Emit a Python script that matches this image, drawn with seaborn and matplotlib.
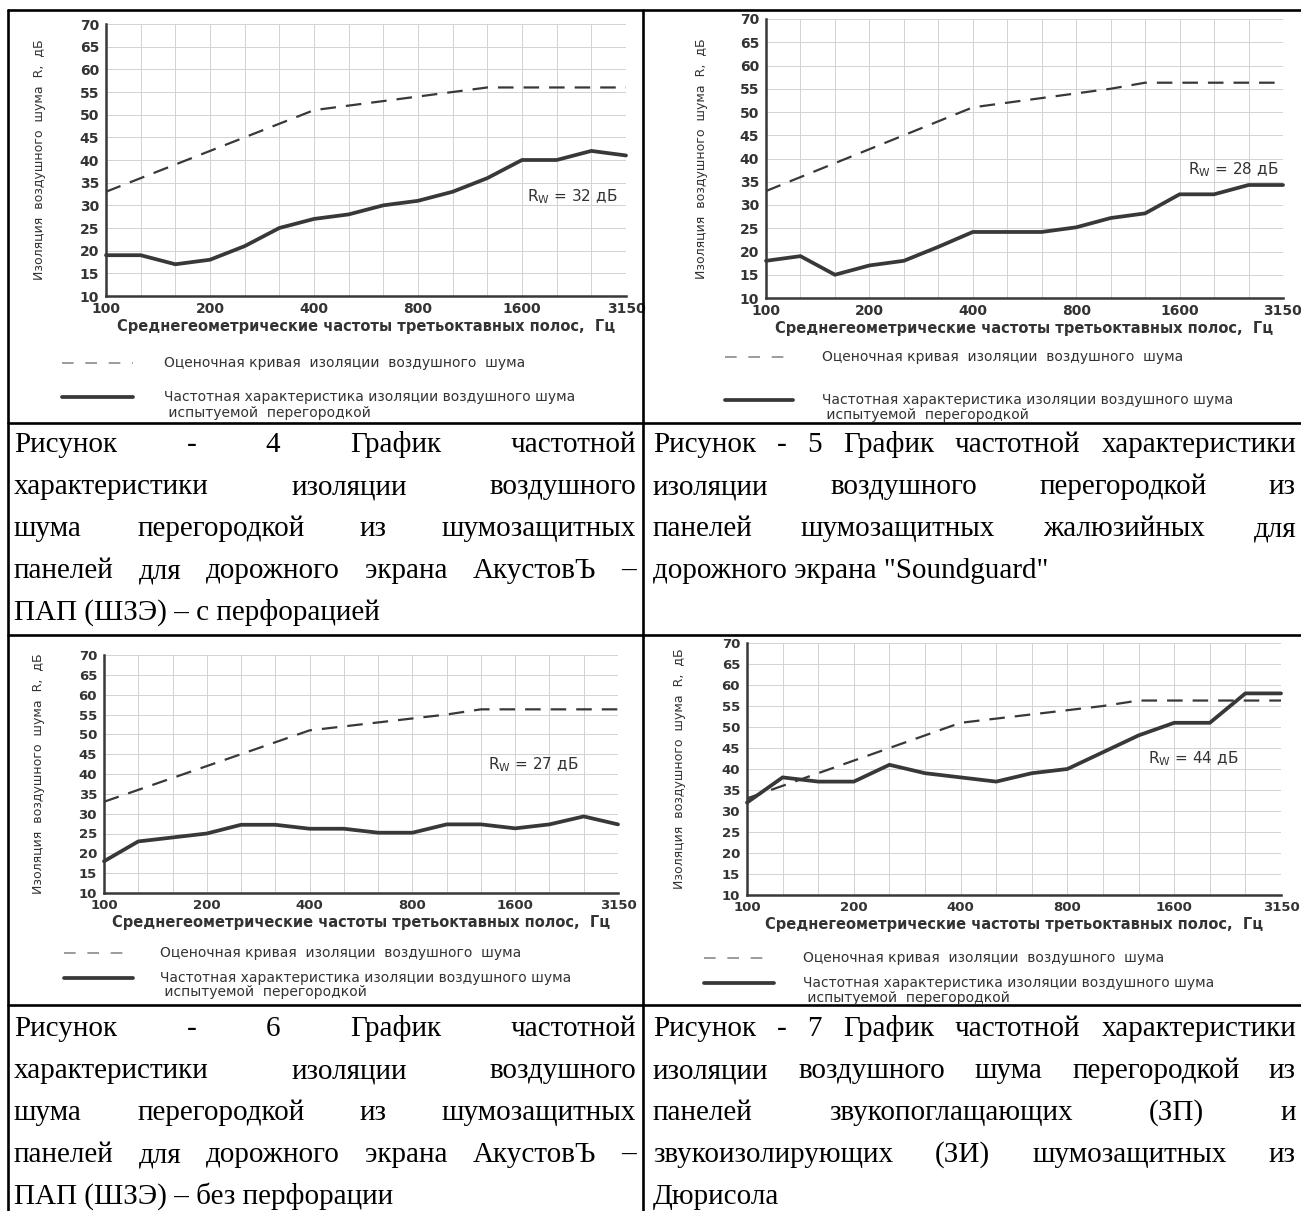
import numpy as np
import pandas as pd
import matplotlib
matplotlib.use("Agg")
import matplotlib.pyplot as plt
import seaborn as sns
from matplotlib.lines import Line2D

# Third-octave band centre frequencies (Hz)
freqs = [100, 125, 160, 200, 250, 315, 400, 500, 630, 800,
         1000, 1250, 1600, 2000, 2500, 3150]
shown_freqs = [100, 200, 400, 800, 1600, 3150]

# Reference (rating) curve, dashed
ref_curve = [33, 36, 39, 42, 45, 48, 51, 52, 53, 54, 55, 56, 56, 56, 56, 56]
ref_curve_b = [33, 36, 39, 42, 45, 48, 51, 52, 53, 54, 55, 56.3, 56.3, 56.3, 56.3, 56.3]

# Measured insulation curves, solid
meas_fig4 = [19, 19, 17, 18, 21, 25, 27, 28, 30, 31, 33, 36, 40, 40, 42, 41]
meas_fig5 = [18, 19, 15, 17, 18, 21, 24.2, 24.2, 24.2, 25.2, 27.2, 28.2, 32.3, 32.3, 34.3, 34.3]
meas_fig6 = [18, 23, 24, 25, 27.2, 27.2, 26.2, 26.2, 25.2, 25.2, 27.3, 27.3, 26.3, 27.3, 29.3, 27.3]
meas_fig7 = [32, 38, 37, 37, 41, 39, 38, 37, 39, 40, 44, 48, 51, 51, 58, 58]

rw_values = [32, 28, 27, 44]

ylabel_txt = "Изоляция  воздушного  шума  R,  дБ"
xlabel_txt = "Среднегеометрические частоты третьоктавных полос,  Гц"
legend_ref = "Оценочная кривая  изоляции  воздушного  шума"
legend_meas = ["Частотная характеристика изоляции воздушного шума",
               " испытуемой  перегородкой"]

caption4 = ["Рисунок - 4 График частотной",
            "характеристики изоляции воздушного",
            "шума перегородкой из шумозащитных",
            "панелей для дорожного экрана АкустовЪ –",
            "ПАП (ШЗЭ) – с перфорацией"]
caption5 = ["Рисунок - 5 График частотной характеристики",
            "изоляции воздушного перегородкой из",
            "панелей шумозащитных жалюзийных для",
            "дорожного экрана \"Soundguard\""]
caption6 = ["Рисунок - 6 График частотной",
            "характеристики изоляции воздушного",
            "шума перегородкой из шумозащитных",
            "панелей для дорожного экрана АкустовЪ –",
            "ПАП (ШЗЭ) – без перфорации"]
caption7 = ["Рисунок - 7 График частотной характеристики",
            "изоляции воздушного шума перегородкой из",
            "панелей звукопоглащающих (ЗП) и",
            "звукоизолирующих (ЗИ) шумозащитных из",
            "Дюрисола"]

W, H = 1301, 1211
LINE_C = "#383838"
TEXT_C = "#333333"

sns.set_style("white")
plt.rcParams["font.family"] = ["DejaVu Sans"]

fig = plt.figure(figsize=(W / 100, H / 100), dpi=100)
renderer = fig.canvas.get_renderer()


def fx(x):
    return x / W


def fy(y):
    return 1 - y / H


def draw_chart(box, ref, meas, rw, rw_pos, xlab_y, ylab_x, leg, tick_fs=10):
    l, r, t, b = box
    ax = fig.add_axes([fx(l), fy(b), (r - l) / W, (b - t) / H])
    df = pd.DataFrame({"idx": np.arange(len(freqs)), "ref": ref, "meas": meas})
    sns.lineplot(data=df, x="idx", y="ref", ax=ax, color=LINE_C, lw=1.6,
                 linestyle=(0, (7, 4.5)), errorbar=None, clip_on=False)
    sns.lineplot(data=df, x="idx", y="meas", ax=ax, color=LINE_C, lw=2.7,
                 errorbar=None, clip_on=False, solid_joinstyle="miter")
    ax.set_xlim(0, len(freqs) - 1)
    ax.set_ylim(10, 70)
    ax.set_xticks(range(len(freqs)))
    ax.set_xticklabels([str(f) if f in shown_freqs else "" for f in freqs])
    ax.set_yticks(range(10, 71, 5))
    ax.tick_params(axis="both", direction="out", length=3, width=1.2,
                   color=LINE_C, labelcolor=TEXT_C, labelsize=tick_fs)
    ax.tick_params(axis="x", pad=1.5)
    ax.tick_params(axis="y", pad=2)
    for lab in ax.get_xticklabels() + ax.get_yticklabels():
        lab.set_fontweight("bold")
    ax.grid(True, color="#d2d2d2", lw=0.7)
    ax.set_axisbelow(True)
    sns.despine(ax=ax)
    for s in ["left", "bottom"]:
        ax.spines[s].set_color(LINE_C)
        ax.spines[s].set_linewidth(1.8)

    ax.set_xlabel(xlabel_txt, fontsize=10.5, fontweight="bold", color=TEXT_C)
    ax.xaxis.label.set_va("center")
    ax.xaxis.set_label_coords(0.5, -(xlab_y - b) / (b - t))
    ax.set_ylabel(ylabel_txt, fontsize=9, color=TEXT_C)
    ax.yaxis.label.set_va("center")
    ax.yaxis.label.set_rotation_mode("anchor")
    ax.yaxis.set_label_coords(-(l - ylab_x) / (r - l), 0.5)

    ax.text(rw_pos[0], rw_pos[1], r"R$_{\mathregular{W}}$ = %d дБ" % rw,
            fontsize=11, color=TEXT_C, va="center", ha="left")

    # legend below the chart
    (x1, x2, xt, y_ref, y_meas, dy) = leg
    fig.add_artist(Line2D([fx(x1), fx(x2)], [fy(y_ref)] * 2, color="#8a8a8a",
                          lw=1.2, linestyle=(0, (7, 7))))
    fig.add_artist(Line2D([fx(x1), fx(x2)], [fy(y_meas)] * 2, color=LINE_C,
                          lw=2.7))
    fig.text(fx(xt), fy(y_ref), legend_ref, fontsize=10, color=TEXT_C,
             va="center", ha="left")
    fig.text(fx(xt), fy(y_meas), legend_meas[0], fontsize=10, color=TEXT_C,
             va="center", ha="left")
    fig.text(fx(xt), fy(y_meas + dy), legend_meas[1], fontsize=10,
             color=TEXT_C, va="center", ha="left")
    return ax


draw_chart((106, 626, 24, 296), ref_curve, meas_fig4, rw_values[0], (12.15, 32),
           327, 39, (62, 133, 164, 363, 397, 16))
draw_chart((766, 1283, 19, 298), ref_curve_b, meas_fig5, rw_values[1], (12.25, 37.5),
           328, 702, (725, 793, 822, 357, 400, 15))
draw_chart((104, 618, 655, 893), ref_curve_b, meas_fig6, rw_values[2], (11.2, 42.3),
           923, 39, (64, 133, 160, 953, 978, 14), tick_fs=9.5)
draw_chart((747, 1281, 643, 895), ref_curve_b, meas_fig7, rw_values[3], (11.25, 42.4),
           925, 679, (704, 774, 803, 958, 983, 15), tick_fs=9.5)

# captions, justified like the source document
CAP_FS = 21
CAP_FONT = "Liberation Serif"


def caption(lines, x0, x1, y0, step=42):
    for i, line in enumerate(lines):
        base = y0 + i * step + 9
        last = i == len(lines) - 1
        words = line.split(" ")
        if last or len(words) == 1:
            fig.text(fx(x0), fy(base), line, fontsize=CAP_FS, family=CAP_FONT,
                     va="baseline", ha="left", color="black")
            continue
        texts = [fig.text(0, fy(base), w, fontsize=CAP_FS, family=CAP_FONT,
                          va="baseline", ha="left", color="black") for w in words]
        widths = [tx.get_window_extent(renderer).width for tx in texts]
        gap = (x1 - x0 - sum(widths)) / (len(words) - 1)
        x = x0
        for tx, w in zip(texts, widths):
            tx.set_x(fx(x))
            x += w + gap


caption(caption4, 14, 636, 443)
caption(caption5, 653, 1296, 443)
caption(caption6, 14, 636, 1027)
caption(caption7, 653, 1296, 1027)

# table grid
TBL_LW = 1.9
for y in [10, 423, 635, 1005]:
    fig.add_artist(Line2D([fx(8), fx(W)], [fy(y)] * 2, color="black", lw=TBL_LW))
for x in [8, 643]:
    fig.add_artist(Line2D([fx(x)] * 2, [fy(10), fy(H)], color="black", lw=TBL_LW))

fig.savefig("out.png", dpi=100, facecolor="white")
